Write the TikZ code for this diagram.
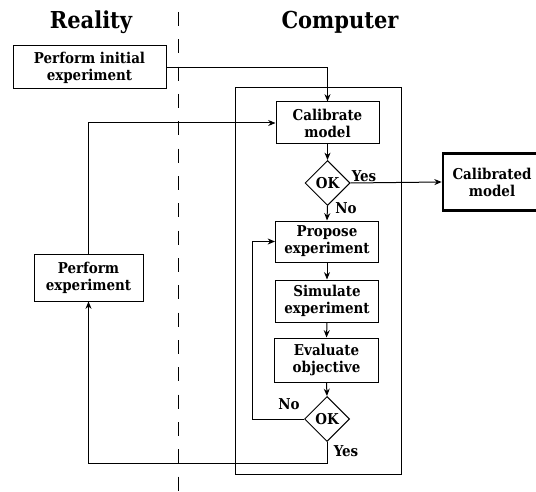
\documentclass[tikz,border=0pt]{standalone}
\usepackage{fontspec}
\setmainfont{DejaVu Serif Condensed}
\usetikzlibrary{shapes.geometric,arrows.meta}
\begin{document}
\begin{tikzpicture}[x=0.75pt,y=-0.75pt,
  line width=0.75pt,
  >={Stealth[length=5.5pt,width=4.5pt]},
  every node/.style={font=\bfseries\fontsize{11.2}{12.8}\selectfont},
  procbox/.style={draw, align=center, inner sep=0pt},
  decision/.style={draw, diamond, aspect=1, inner sep=0pt, minimum width=33.75pt, minimum height=33.75pt},
  title/.style={font=\bfseries\fontsize{17.5}{20}\selectfont},
  lbl/.style={inner sep=0pt},
  divider/.style={dash pattern=on 10.5pt off 10pt, line width=0.75pt}
]
\useasboundingbox (0,0) rectangle (536,492);

% titles
\node[title] (treal) at (91,22) {Reality};
\node[title] (tcomp) at (340,22) {Computer};

% divider
\coordinate (dtop) at (178,12);
\coordinate (dbot) at (178,494);
\draw[divider] (dtop) -- (dbot);

% computer frame
\draw (235,88) rectangle (401,474);

% boxes
\node[procbox, minimum width=114.75pt, minimum height=32.25pt] (init) at (89.5,67.5) {Perform initial\\experiment};
\node[procbox, minimum width=77.25pt, minimum height=31.5pt] (calib) at (327.5,123) {Calibrate\\model};
\node[decision] (d1) at (327.5,183) {OK};
\node[procbox, line width=2pt, minimum width=73.5pt, minimum height=42.75pt] (calmod) at (492,182) {Calibrated\\model};
\node[procbox, minimum width=77.25pt, minimum height=30.75pt] (prop) at (327,241.5) {Propose\\experiment};
\node[procbox, minimum width=77.25pt, minimum height=31.5pt] (sim) at (327,301) {Simulate\\experiment};
\node[procbox, minimum width=78pt, minimum height=33pt] (eval) at (326.5,360) {Evaluate\\objective};
\node[decision] (d2) at (327,419) {OK};
\node[procbox, minimum width=81.75pt, minimum height=35.25pt] (perf) at (88.5,277.5) {Perform\\experiment};

% labels
\node[lbl] (y1) at (364,176) {Yes};
\node[lbl] (n1) at (346,208) {No};
\node[lbl] (n2) at (289,404) {No};
\node[lbl] (y2) at (346,451) {Yes};

% connectors
\draw[->] (init.east) -| (calib.north);
\draw[->] (calib.south) -- (d1.north);
\draw[->] (d1.east) -- (calmod.west);
\draw[->] (d1.south) -- (prop.north);
\draw[->] (prop.south) -- (sim.north);
\draw[->] (sim.south) -- (eval.north);
\draw[->] (eval.south) -- (d2.north);
\coordinate (nloop) at (252,419);
\draw[->] (d2.west) -- (nloop) |- (prop.west);
\coordinate (yloop) at (327,463);
\draw[->] (d2.south) -- (yloop) -| (perf.south);
\draw[->] (perf.north) |- (calib.west);
\end{tikzpicture}
\end{document}
